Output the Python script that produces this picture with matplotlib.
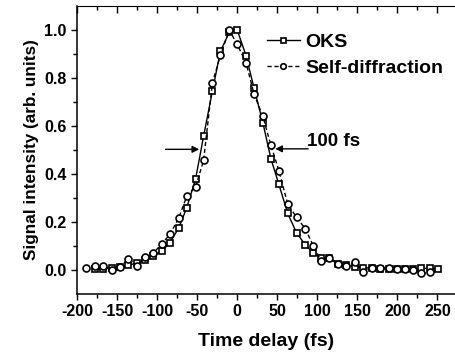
import numpy as np
import matplotlib as mpl
mpl.use("Agg")
import matplotlib.pyplot as plt

plt.rcParams['font.family'] = ['Liberation Sans', 'DejaVu Sans']
plt.rcParams['font.weight'] = 'bold'
plt.rcParams['axes.unicode_minus'] = False

# OKS trace (squares, solid line)
t_oks = [-177, -167, -157, -146, -136, -125, -115, -105, -94, -84, -73, -63, -52, -42,
         -31, -21, -10, 0, 11, 21, 32, 42, 52, 63, 74, 85, 95, 105, 115, 126, 136,
         147, 157, 168, 178, 189, 199, 210, 220, 230, 241, 251]
oks = [0.003, 0.005, 0.008, 0.014, 0.02, 0.03, 0.04, 0.057, 0.08, 0.114, 0.176, 0.26,
       0.38, 0.558, 0.746, 0.912, 0.99, 1.0, 0.893, 0.758, 0.614, 0.464, 0.357, 0.236,
       0.156, 0.104, 0.072, 0.05, 0.05, 0.027, 0.02, 0.014, 0.01, 0.008, 0.006, 0.005,
       0.005, 0.005, 0.005, 0.007, 0.007, 0.004]

# self-diffraction trace (circles, dashed line)
t_sd = [-189, -178, -167, -157, -146, -136, -125, -115, -105, -94, -84, -73, -63, -52,
        -42, -31, -21, -10, 0, 11, 21, 32, 42, 52, 63, 74, 85, 95, 105, 115, 126, 136,
        147, 157, 168, 178, 189, 199, 210, 220, 230, 241]
sd = [0.007, 0.018, 0.018, 0.0, 0.014, 0.046, 0.018, 0.054, 0.07, 0.11, 0.149, 0.217,
      0.308, 0.347, 0.457, 0.78, 0.894, 1.0, 0.94, 0.864, 0.733, 0.64, 0.52, 0.414,
      0.275, 0.22, 0.172, 0.10, 0.0375, 0.049, 0.025, 0.018, 0.032, -0.007, 0.01, 0.01,
      0.01, 0.005, 0.005, 0.0, -0.014, -0.01]

fig = plt.figure(figsize=(4.56, 3.56), dpi=100)
ax = fig.add_axes([0.169, 0.174, 0.829, 0.809])

ax.plot(t_oks, oks, color='black', lw=1.0, marker='s', ms=4.5, mfc='white',
        mec='black', mew=1.2, label='OKS')
ax.plot(t_sd, sd, color='black', lw=1.0, ls=(0, (3, 2)), marker='o', ms=5, mfc='white',
        mec='black', mew=1.2, label='Self-diffraction')

# FWHM arrows
ax.annotate('', xy=(-44, 0.503), xytext=(-93, 0.503),
            arrowprops=dict(arrowstyle='-|>', color='black', lw=1, mutation_scale=10))
ax.annotate('', xy=(44, 0.505), xytext=(92, 0.505),
            arrowprops=dict(arrowstyle='-|>', color='black', lw=1, mutation_scale=10))
ax.text(87, 0.535, '100 fs', fontsize=13.5, fontweight='bold', va='center', ha='left')

ax.set_xlim(-200, 272)
ax.set_ylim(-0.1, 1.1)
ax.set_xticks(np.arange(-200, 251, 50))
ax.set_xticks(np.arange(-200, 271, 25), minor=True)
ax.set_yticks(np.arange(0, 1.01, 0.2))
ax.set_yticks(np.arange(0, 1.05, 0.1), minor=True)
ax.set_yticklabels(['0.0', '0.2', '0.4', '0.6', '0.8', '1.0'])

ax.tick_params(which='both', direction='out', labelsize=11.5, width=1)
ax.tick_params(which='major', length=4)
ax.tick_params(which='minor', length=3)

# mirrored top axis with inward ticks
top = ax.secondary_xaxis('top')
top.set_xticks(np.arange(-200, 251, 50))
top.set_xticks(np.arange(-200, 271, 25), minor=True)
top.tick_params(which='both', direction='in', labeltop=False, width=1)
top.tick_params(which='major', length=5)
top.tick_params(which='minor', length=3)
ax.spines['top'].set_visible(False)
ax.spines['right'].set_visible(False)
for s in ['left', 'bottom']:
    ax.spines[s].set_linewidth(1.1)

ax.set_xlabel('Time delay (fs)', fontsize=14, fontweight='bold', labelpad=10)
ax.set_ylabel('Signal intensity (arb. units)', fontsize=12.3, fontweight='bold', labelpad=4)

ax.legend(loc='center left', bbox_to_anchor=(0.481, 0.83), frameon=False, fontsize=14,
          handlelength=1.7, handletextpad=0.3, labelspacing=0.4, markerscale=0.8,
          borderaxespad=0)

plt.savefig('out.png', dpi=100)
